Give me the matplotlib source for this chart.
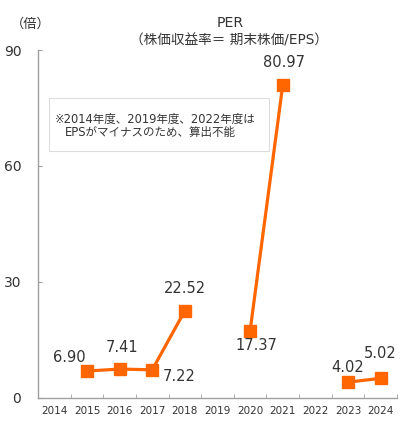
import numpy as np
import matplotlib
matplotlib.use('Agg')
import matplotlib.pyplot as plt
from matplotlib.patches import Rectangle

plt.rcParams['font.family'] = ['DejaVu Sans', 'Noto Sans CJK JP']

years = ['2014', '2015', '2016', '2017', '2018', '2019', '2020', '2021', '2022', '2023', '2024']
per = [np.nan, 6.90, 7.41, 7.22, 22.52, np.nan, 17.37, 80.97, np.nan, 4.02, 5.02]
# label offsets in pixels (dx, dy)
label_offsets = [None, (-18, 14), (2, 22), (27, -7), (0, 22), None, (6, -15), (1, 22), None, (0, 15), (0, 25)]

orange = '#FF6600'
grey = '#A0A0A0'
txt = '#333333'

fig = plt.figure(figsize=(4.1, 4.4), dpi=100)
ax = fig.add_axes([38 / 410, 42.3 / 440, 359 / 410, 347.7 / 440])

x = np.arange(len(years))
ax.plot(x, per, color=orange, lw=2.3, marker='s', markersize=8.5, zorder=3)

for i, v in enumerate(per):
    if np.isnan(v):
        continue
    ax.annotate('%.2f' % v, (x[i], v), xytext=label_offsets[i], textcoords='offset pixels',
                ha='center', va='center', fontsize=10.5, color=txt)

ax.set_xlim(-0.5, len(years) - 0.5)
ax.set_ylim(0, 90)
ax.set_yticks([0, 30, 60, 90])
ax.set_xticks(x)
ax.set_xticklabels(years)
ax.set_xticks(np.arange(len(years) + 1) - 0.5, minor=True)
ax.tick_params(axis='x', which='major', length=0, labelsize=7.5, pad=6, labelcolor=txt)
ax.tick_params(axis='x', which='minor', direction='in', length=3, color=grey)
ax.tick_params(axis='y', direction='in', length=3, color=grey, labelsize=10, pad=12, labelcolor=txt)

for s in ['top', 'right']:
    ax.spines[s].set_visible(False)
for s in ['left', 'bottom']:
    ax.spines[s].set_color(grey)
    ax.spines[s].set_linewidth(1)

# note box
ax.add_patch(Rectangle((0.0306, 0.7095), 0.613, 0.1524, transform=ax.transAxes,
                       fc='white', ec='#DDDDDD', lw=0.8, zorder=1))
ax.text(0.047, 0.801, '※2014年度、2019年度、2022年度は', transform=ax.transAxes,
        fontsize=8.3, color=txt, va='center', ha='left', zorder=2)
ax.text(0.075, 0.764, 'EPSがマイナスのため、算出不能', transform=ax.transAxes,
        fontsize=8.3, color=txt, va='center', ha='left', zorder=2)

fig.text(230 / 410, 1 - 23 / 440, 'PER', ha='center', va='center', fontsize=10.2, color=txt)
fig.text(229 / 410, 1 - 41 / 440, '（株価収益率＝ 期末株価/EPS）', ha='center', va='center',
         fontsize=9.8, color=txt)
fig.text(31 / 410, 1 - 24 / 440, '（倍）', ha='center', va='center', fontsize=9.5, color=txt)

fig.savefig('out.png', dpi=100)
